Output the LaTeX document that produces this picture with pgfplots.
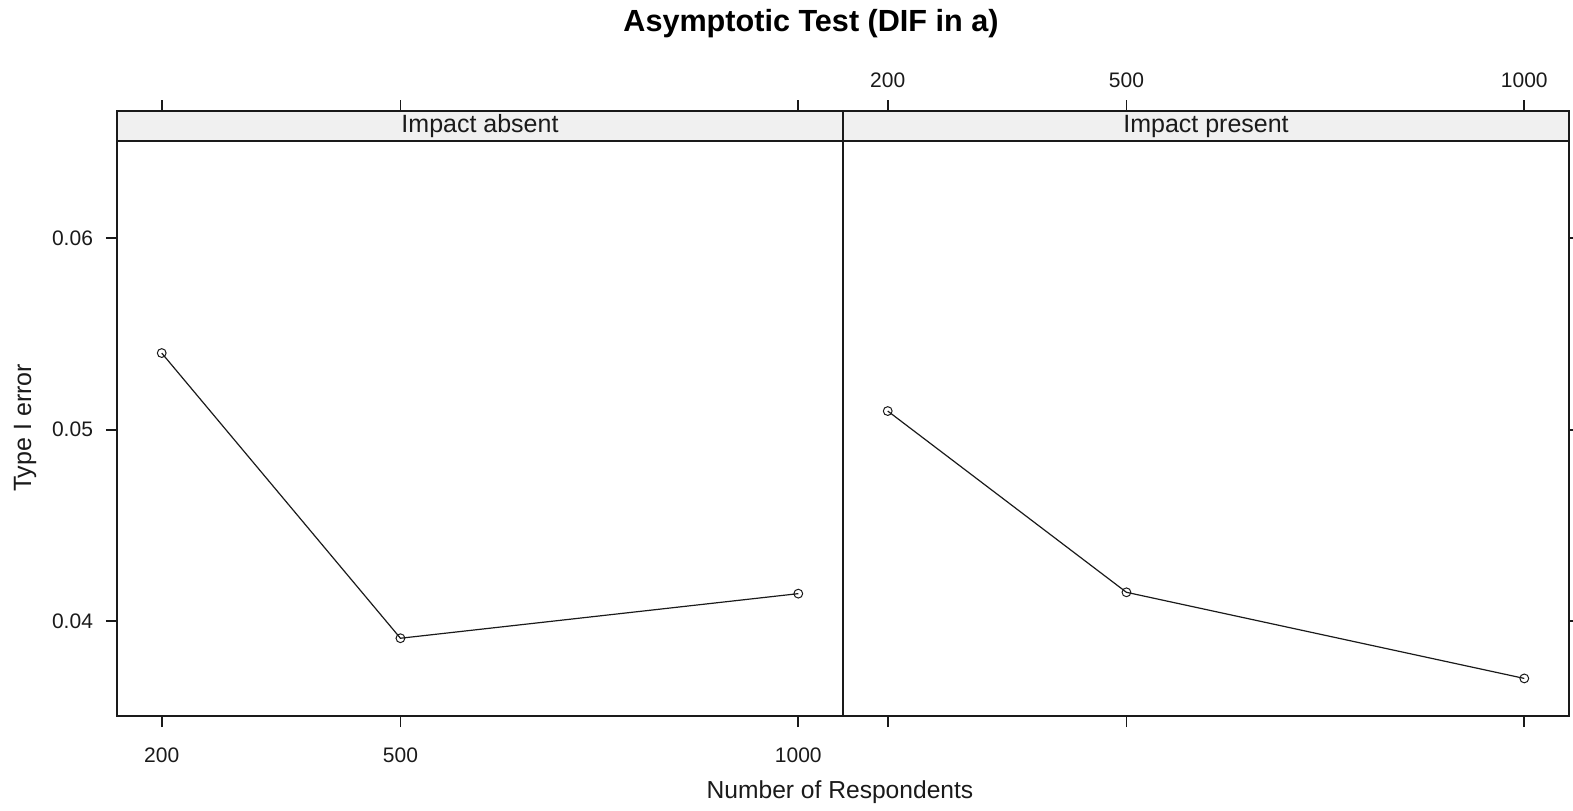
\documentclass[border=0pt]{standalone}
\usepackage{fontspec}
\setmainfont{Liberation Sans}
\usepackage{pgfplots}
\pgfplotsset{compat=1.18}
\definecolor{stripgray}{HTML}{F0F0F0}
\definecolor{ink}{HTML}{1A1A1A}

\pgfplotsset{
  panel/.style={
    width=363pt, height=302.5pt, scale only axis,
    xmin=143.8, xmax=1056.2,
    ymin=0.035037, ymax=0.066646,
    xtick={200,500,1000},
    ytick={0.04,0.05,0.06},
    scaled ticks=false,
    tick align=outside, major tick length=5.5pt,
    axis on top, clip=false,
    axis line style={line width=0.9pt, color=ink},
    every tick/.style={line width=0.9pt, color=ink},
    tick label style={font=\fontsize{10.5}{12}\selectfont, color=ink},
    /pgf/number format/assume math mode=true,
    xticklabel style={/pgf/number format/1000 sep={}},
    yticklabel style={/pgf/number format/fixed, /pgf/number format/fixed zerofill,
      /pgf/number format/precision=2},
  },
  series/.style={color=ink, line width=0.6pt, mark=o,
    mark options={line width=0.5pt, scale=1.1}},
}

\begin{document}
\begin{tikzpicture}
\path[use as bounding box] (-58.5pt,-47pt) rectangle (728pt,358pt);

% left panel
\begin{axis}[panel, at={(0pt,0pt)}, anchor=south west,
  xticklabel pos=lower, xtick pos=both, ytick pos=left,
  xticklabel style={yshift=-7pt}, yticklabel style={xshift=-3pt}]
\fill[stripgray] (axis description cs:0,0.95041) rectangle (axis description cs:1,1);
\draw[line width=0.9pt, color=ink] (axis description cs:0,0.95041) -- (axis description cs:1,0.95041);
\node[font=\fontsize{12.5}{14}\selectfont, color=ink] at (axis description cs:0.5,0.9752) {Impact absent};
\addplot[series] coordinates {(200,0.0540) (500,0.0391) (1000,0.04143)};
\end{axis}

% right panel
\begin{axis}[panel, at={(363pt,0pt)}, anchor=south west,
  xticklabel pos=upper, xtick pos=both, ytick pos=right, yticklabels={},
  xticklabel style={yshift=2.5pt}]
\fill[stripgray] (axis description cs:0,0.95041) rectangle (axis description cs:1,1);
\draw[line width=0.9pt, color=ink] (axis description cs:0,0.95041) -- (axis description cs:1,0.95041);
\node[font=\fontsize{12.5}{14}\selectfont, color=ink] at (axis description cs:0.5,0.9752) {Impact present};
\addplot[series] coordinates {(200,0.05097) (500,0.0415) (1000,0.0370)};
\end{axis}

\node[font=\bfseries\fontsize{15.3}{17}\selectfont] at (347pt,346pt) {Asymptotic Test (DIF in a)};
\node[font=\fontsize{12.3}{14}\selectfont, color=ink] at (361.5pt,-38pt) {Number of Respondents};
\node[font=\fontsize{12.5}{14}\selectfont, color=ink, rotate=90] at (-46pt,144pt) {Type I error};
\end{tikzpicture}
\end{document}
